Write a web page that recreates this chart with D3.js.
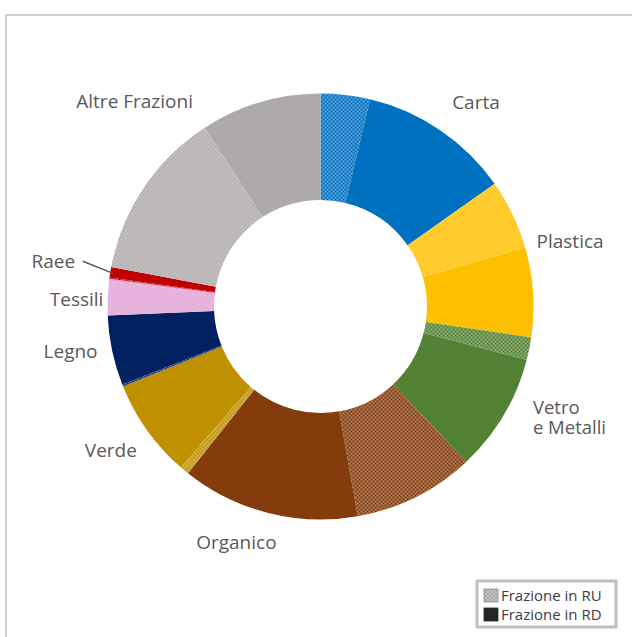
<!DOCTYPE html>
<html>
<head>
<meta charset="utf-8">
<script src="https://cdn.jsdelivr.net/npm/d3@7"></script>
<style>
  html, body { margin: 0; padding: 0; background: #fff; }
  svg { display: block; }
  text { font-family: "Open Sans", "Noto Sans", sans-serif; }
</style>
</head>
<body>
<svg id="chart" width="632" height="637"></svg>
<script>
// Waste fractions: share collected as residual waste (RU) and separately (RD), in %
const categories = ["Carta", "Plastica", "Vetro e Metalli", "Organico", "Verde", "Legno", "Tessili", "Raee", "Altre Frazioni"];
const ruValues = [3.75, 5.3, 1.7, 9.2, 0.7, 0.15, 2.6, 0.1, 12.9];
const rdValues = [11.5, 6.8, 9.0, 13.5, 7.5, 5.3, 0.15, 0.8, 9.15];
const colors = ["#0070C0", "#FFC000", "#548235", "#843C0C", "#BF9000", "#002060", "#E2A3D6", "#C00000", "#AEAAAA"];
const legendLabels = ["Frazione in RU", "Frazione in RD"];

// Label placement: angular shift from slice mid-angle (deg) and radius
const labelShift = [9.8, -1.3, -3.7, 22, 2.4, 2, -0.9, 0.6, -2.5];
const labelRadius = [257, 258, 275, 250, 254, 254, 244, 271, 277];

const svg = d3.select("#chart");
const cx = 320.5, cy = 306.5, outerR = 213, innerR = 106.5;

// Chart frame
svg.append("rect")
  .attr("x", 6).attr("y", 15)
  .attr("width", 700).attr("height", 700)
  .attr("fill", "none").attr("stroke", "#c4c4c4").attr("stroke-width", 1.5);

// Dotted fill patterns for the RU share of each fraction
const defs = svg.append("defs");
function dotPattern(id, color) {
  const p = defs.append("pattern")
    .attr("id", id).attr("patternUnits", "userSpaceOnUse")
    .attr("width", 4).attr("height", 4);
  p.append("rect").attr("width", 4).attr("height", 4).attr("fill", color);
  [[1, 1], [3, 3]].forEach(([x, y]) => {
    p.append("circle").attr("cx", x).attr("cy", y).attr("r", 0.8)
      .attr("fill", "#fff").attr("opacity", 0.8);
  });
}
colors.forEach((c, i) => dotPattern("ru" + i, c));
dotPattern("ruLegend", "#a6a6a6");

// Flatten into RU / RD slices, RU first within each fraction
const slices = [];
categories.forEach((cat, i) => {
  slices.push({ cat: i, kind: "RU", value: ruValues[i] });
  slices.push({ cat: i, kind: "RD", value: rdValues[i] });
});

const pie = d3.pie().sort(null).value(d => d.value);
const arcs = pie(slices);
const arc = d3.arc().innerRadius(innerR).outerRadius(outerR);

const g = svg.append("g").attr("transform", `translate(${cx},${cy})`);
g.selectAll("path.slice")
  .data(arcs)
  .join("path")
  .attr("class", "slice")
  .attr("d", arc)
  .attr("fill", d => d.data.kind === "RU" ? `url(#ru${d.data.cat})` : colors[d.data.cat]);

// Category labels around the ring
const deg = Math.PI / 180;
function polar(a, r) { return [Math.sin(a) * r, -Math.cos(a) * r]; }

categories.forEach((cat, i) => {
  const a0 = arcs[2 * i].startAngle, a1 = arcs[2 * i + 1].endAngle;
  const mid = (a0 + a1) / 2;
  const [x, y] = polar(mid + labelShift[i] * deg, labelRadius[i]);
  if (cat === "Vetro e Metalli") {
    // two-line label, left aligned
    ["Vetro", "e Metalli"].forEach((ln, k) => {
      g.append("text")
        .attr("x", x - 39).attr("y", y - 10 + k * 19.5)
        .attr("dy", "0.35em")
        .attr("fill", "#595959").attr("font-size", 18.5)
        .text(ln);
    });
  } else {
    g.append("text")
      .attr("x", x).attr("y", y).attr("dy", "0.35em")
      .attr("text-anchor", "middle")
      .attr("fill", "#595959").attr("font-size", 19)
      .text(cat);
  }
  if (cat === "Raee") {
    const p1 = polar(mid, outerR - 3);
    const p2 = polar(mid + 1.7 * deg, 242);
    g.append("line")
      .attr("x1", p1[0]).attr("y1", p1[1])
      .attr("x2", p2[0]).attr("y2", p2[1])
      .attr("stroke", "#595959").attr("stroke-width", 1.5);
  }
});

// Legend
const lg = svg.append("g").attr("transform", "translate(477,581)");
lg.append("rect").attr("width", 139).attr("height", 46)
  .attr("fill", "#fff").attr("stroke", "#bfbfbf").attr("stroke-width", 3);
legendLabels.forEach((lab, i) => {
  lg.append("rect")
    .attr("x", 7).attr("y", 8 + i * 19).attr("width", 14).attr("height", 13)
    .attr("fill", i === 0 ? "url(#ruLegend)" : "#262626")
    .attr("stroke", i === 0 ? "#8c8c8c" : "#262626").attr("stroke-width", 0.8);
  lg.append("text")
    .attr("x", 24).attr("y", 14.5 + i * 19).attr("dy", "0.35em")
    .attr("font-size", 15).attr("fill", "#404040")
    .text(lab);
});
</script>
</body>
</html>
